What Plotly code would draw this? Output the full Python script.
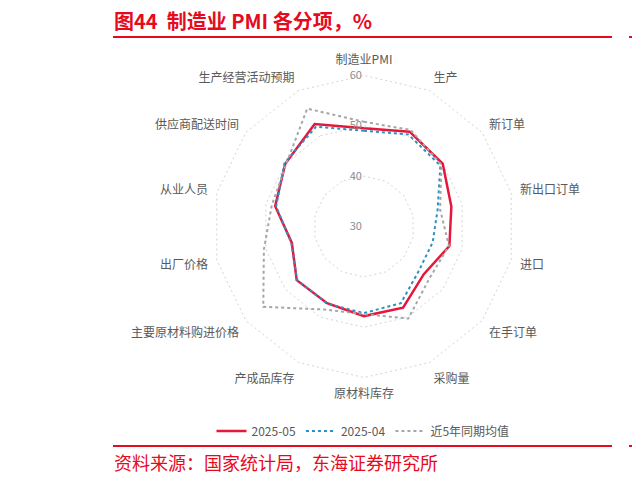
import plotly.graph_objects as go

categories = ["制造业PMI", "生产", "新订单", "新出口订单", "进口", "在手订单", "采购量",
              "原材料库存", "产成品库存", "主要原材料购进价格", "出厂价格", "从业人员",
              "供应商配送时间", "生产经营活动预期"]
may_2025 = [49.5, 50.9, 50.0, 47.8, 47.4, 45.2, 47.9, 47.8, 46.9, 47.1, 44.7, 48.1, 50.0, 52.6]
apr_2025 = [49.0, 50.3, 49.4, 45.0, 44.0, 44.0, 46.9, 47.2, 47.0, 47.0, 44.8, 47.9, 50.2, 52.0]
avg_5y = [50.8, 51.3, 49.7, 45.5, 47.3, 46.6, 50.3, 47.4, 48.3, 55.6, 50.4, 48.8, 49.8, 56.0]
series_names = ["2025-05", "2025-04", "近5年同期均值"]
radial_ticks = [30, 40, 50, 60]

RED = "#E5173A"
BLUE = "#2F8FC4"
GRAY = "#A6A6A6"
TITLE_RED = "#E60A1E"
FONT = "Noto Sans CJK SC"

W, H = 640, 483
OFF = 8  # page body margin offset


def px(x):
    return (x - OFF) / W


def py(y):
    return 1 - (y - OFF) / H


def closed(vals):
    return list(vals) + [vals[0]]


fig = go.Figure()
fig.add_trace(go.Scatterpolar(r=closed(may_2025), theta=closed(categories), mode="lines",
                              name=series_names[0], line=dict(color=RED, width=2.5)))
fig.add_trace(go.Scatterpolar(r=closed(apr_2025), theta=closed(categories), mode="lines",
                              name=series_names[1], line=dict(color=BLUE, width=2, dash="dot")))
fig.add_trace(go.Scatterpolar(r=closed(avg_5y), theta=closed(categories), mode="lines",
                              name=series_names[2], line=dict(color=GRAY, width=2, dash="dot")))

r_min, r_max = 30, 61
cx, cy = 364, 226.5
R = 151 * (r_max - r_min) / 30
fig.update_layout(
    width=W, height=H,
    margin=dict(l=0, r=0, t=0, b=0),
    paper_bgcolor="white", plot_bgcolor="white",
    font=dict(family=FONT, color="#595959", size=12),
    polar=dict(
        domain=dict(x=[px(cx - R), px(cx + R)], y=[py(cy + R), py(cy - R)]),
        gridshape="linear",
        bgcolor="white",
        radialaxis=dict(range=[r_min, r_max], tickvals=radial_ticks, angle=90,
                        side="counterclockwise",
                        showline=False, ticks="", gridcolor="#D4D4D4", griddash="2px,3px",
                        gridwidth=1,
                        tickfont=dict(size=11, color="#8C8C8C", family=FONT), tickangle=90),
        angularaxis=dict(rotation=90, direction="clockwise", showgrid=False,
                         showline=False, ticks="outside", ticklen=1,
                         tickcolor="rgba(0,0,0,0)",
                         tickfont=dict(size=12, color="#595959", family=FONT)),
    ),
    legend=dict(orientation="h", x=px(363), xanchor="center", y=py(431), yanchor="middle",
                font=dict(size=12, color="#595959", family=FONT), itemwidth=30,
                bgcolor="rgba(0,0,0,0)"),
    showlegend=True,
)

fig.add_annotation(text="<b>图44  制造业 PMI 各分项，%</b>", xref="paper", yref="paper",
                   x=px(112), y=py(20), xanchor="left", yanchor="middle", showarrow=False,
                   font=dict(size=20, color=TITLE_RED, family=FONT))
fig.add_annotation(text="资料来源：国家统计局，东海证券研究所", xref="paper", yref="paper",
                   x=px(112), y=py(462), xanchor="left", yanchor="middle", showarrow=False,
                   font=dict(size=18, color=TITLE_RED, family=FONT))
fig.add_annotation(text="<b>图</b>", xref="paper", yref="paper",
                   x=px(630), y=py(20), xanchor="left", yanchor="middle", showarrow=False,
                   font=dict(size=20, color=TITLE_RED, family=FONT))
fig.add_annotation(text="资", xref="paper", yref="paper",
                   x=px(630), y=py(462), xanchor="left", yanchor="middle", showarrow=False,
                   font=dict(size=18, color=TITLE_RED, family=FONT))

for y in (37, 446):
    fig.add_shape(type="line", xref="paper", yref="paper", x0=px(113), x1=px(612),
                  y0=py(y), y1=py(y), line=dict(color=TITLE_RED, width=2))
    fig.add_shape(type="line", xref="paper", yref="paper", x0=px(629), x1=px(648),
                  y0=py(y), y1=py(y), line=dict(color=TITLE_RED, width=2))

fig.write_html("out.html")
